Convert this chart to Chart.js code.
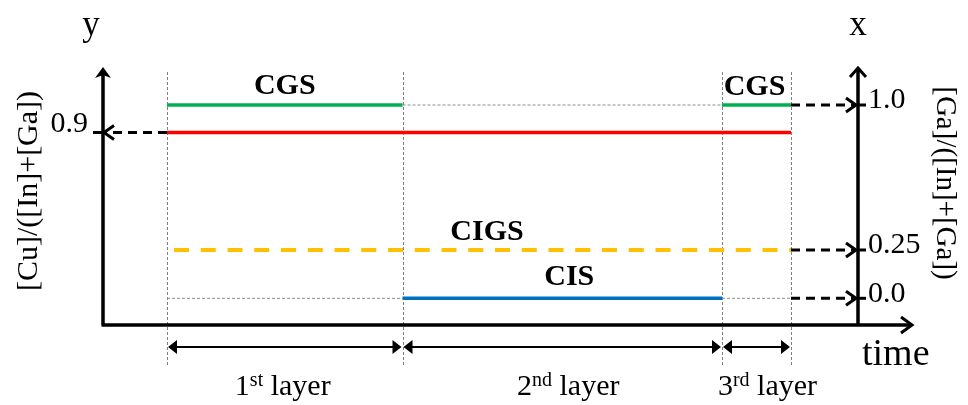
<!DOCTYPE html>
<html>
<head>
<meta charset="utf-8">
<script src="https://cdn.jsdelivr.net/npm/chart.js@4.4.0/dist/chart.umd.min.js"></script>
<style>
  html, body { margin: 0; padding: 0; background: #ffffff; }
  #wrap { width: 968px; height: 405px; }
</style>
</head>
<body>
<div id="wrap"><canvas id="c" width="968" height="405"></canvas></div>
<script>
// Time axis (arbitrary units) and the boundaries of the three deposition stages
const timeRange = [0, 81];
const stageBounds = [6.4, 29.95, 61.9, 68.8];
const gaAxisTime = 75.5;
const stageOrdinals = ['1', '2', '3'];
const stageSuffixes = ['st', 'nd', 'rd'];

// Phase deposited in each stage and its [Ga]/([In]+[Ga])
const stagePhases = ['CGS', 'CIS', 'CGS'];
const stageGa = [1.0, 0.0, 1.0];
const overallPhase = 'CIGS';
const overallGa = 0.25;

// [Cu]/([In]+[Ga]) held through the whole run
const cuRatio = 0.9;

// Tick labels
const cuTicks = [0.9];
const gaTicks = [1.0, 0.25, 0.0];
const cuRange = [0, 1.2062];
const gaRange = [-0.1381, 1.1966];

const phaseColors = { CGS: '#00b050', CIS: '#0070c0', CIGS: '#ffc000' };
const SERIF = '"Liberation Serif", "Times New Roman", serif';

function seg(x0, x1, y) { return [{ x: x0, y: y }, { x: x1, y: y }]; }

const datasets = [];

// thin dotted references at the Ga levels a stage does not sit on
const gaLevels = [1.0, 0.0];
stageGa.forEach((g, i) => {
  gaLevels.forEach(level => {
    if (level !== g) {
      datasets.push({
        data: seg(stageBounds[i], stageBounds[i + 1], level), yAxisID: 'yGa',
        borderColor: '#8c8c8c', borderWidth: 1, borderDash: [3, 2], order: 5
      });
    }
  });
});

// composition of each stage
stageGa.forEach((g, i) => {
  datasets.push({
    data: seg(stageBounds[i], stageBounds[i + 1], g), yAxisID: 'yGa',
    borderColor: phaseColors[stagePhases[i]], borderWidth: 3.5, order: 2
  });
});

// overall CIGS composition
datasets.push({
  data: seg(stageBounds[0], stageBounds[3], overallGa), yAxisID: 'yGa',
  borderColor: phaseColors.CIGS, borderWidth: 4, borderDash: [15, 11.75], borderDashOffset: 19.75, order: 2
});

// Cu ratio
datasets.push({
  data: seg(stageBounds[0], stageBounds[3], cuRatio), yAxisID: 'yCu',
  borderColor: '#ff0000', borderWidth: 3.5, order: 1
});

// dashed leaders to the axes
const leaders = [];
datasets.push({
  data: seg(stageBounds[0], 0.1, cuRatio), yAxisID: 'yCu',
  borderColor: '#000000', borderWidth: 3, borderDash: [9, 6], order: 0
});
leaders.push({ axis: 'yCu', x: 0.1, y: cuRatio, dir: -1 });
gaTicks.forEach(g => {
  datasets.push({
    data: seg(stageBounds[3], gaAxisTime - 0.2, g), yAxisID: 'yGa',
    borderColor: '#000000', borderWidth: 3, borderDash: [9, 6], order: 0
  });
  leaders.push({ axis: 'yGa', x: gaAxisTime - 0.2, y: g, dir: 1 });
});

datasets.forEach(d => { d.pointRadius = 0; d.fill = false; d.clip = false; d.borderCapStyle = 'butt'; });

function fmt(v) { return v === 0.25 ? '0.25' : v.toFixed(1); }

const schematic = {
  id: 'schematic',
  beforeDatasetsDraw(chart) {
    const ctx = chart.ctx, a = chart.chartArea, sx = chart.scales.x;
    ctx.save();
    ctx.strokeStyle = '#7f7f7f';
    ctx.lineWidth = 1;
    ctx.setLineDash([3, 2]);
    stageBounds.forEach(t => {
      const px = Math.round(sx.getPixelForValue(t)) + 0.5;
      ctx.beginPath();
      ctx.moveTo(px, a.top + 5);
      ctx.lineTo(px, a.bottom + 40);
      ctx.stroke();
    });
    ctx.restore();
  },
  afterDatasetsDraw(chart) {
    const ctx = chart.ctx, a = chart.chartArea;
    const sx = chart.scales.x, sCu = chart.scales.yCu, sGa = chart.scales.yGa;
    ctx.save();
    ctx.setLineDash([]);
    ctx.strokeStyle = '#000';
    ctx.fillStyle = '#000';

    // axes
    const x0 = sx.getPixelForValue(0);
    const xR = sx.getPixelForValue(gaAxisTime);
    ctx.lineWidth = 3.5;
    ctx.beginPath();
    ctx.moveTo(x0, a.bottom); ctx.lineTo(x0, a.top + 4);
    ctx.moveTo(x0 - 1.5, a.bottom); ctx.lineTo(a.right - 3, a.bottom);
    ctx.moveTo(xR, a.bottom); ctx.lineTo(xR, a.top + 3);
    ctx.stroke();
    // filled head on the left axis
    ctx.beginPath();
    ctx.moveTo(x0, a.top); ctx.lineTo(x0 - 8, a.top + 11); ctx.lineTo(x0, a.top + 8); ctx.lineTo(x0 + 8, a.top + 11);
    ctx.closePath(); ctx.fill();
    // open heads on the time and Ga axes
    ctx.lineWidth = 3;
    ctx.lineJoin = 'miter';
    ctx.beginPath();
    ctx.moveTo(xR - 8, a.top + 10); ctx.lineTo(xR, a.top + 1); ctx.lineTo(xR + 8, a.top + 10);
    ctx.moveTo(a.right - 12, a.bottom - 8); ctx.lineTo(a.right - 1, a.bottom); ctx.lineTo(a.right - 12, a.bottom + 8);
    ctx.stroke();

    // ticks
    ctx.lineWidth = 3;
    cuTicks.forEach(v => {
      const py = sCu.getPixelForValue(v);
      ctx.beginPath(); ctx.moveTo(x0 - 10, py); ctx.lineTo(x0, py); ctx.stroke();
    });
    gaTicks.forEach(v => {
      const py = sGa.getPixelForValue(v);
      ctx.beginPath(); ctx.moveTo(xR, py); ctx.lineTo(xR + 8, py); ctx.stroke();
    });

    // open heads on the dashed leaders
    ctx.lineWidth = 3;
    leaders.forEach(l => {
      const s = l.axis === 'yCu' ? sCu : sGa;
      const px = sx.getPixelForValue(l.x), py = s.getPixelForValue(l.y);
      ctx.beginPath();
      ctx.moveTo(px - l.dir * 10, py - 7); ctx.lineTo(px, py); ctx.lineTo(px - l.dir * 10, py + 7);
      ctx.stroke();
    });

    // stage span arrows
    const ay = a.bottom + 22;
    ctx.lineWidth = 2;
    for (let i = 0; i < 3; i++) {
      const p0 = sx.getPixelForValue(stageBounds[i]) + 1;
      const p1 = sx.getPixelForValue(stageBounds[i + 1]) - 1;
      ctx.beginPath(); ctx.moveTo(p0 + 6, ay); ctx.lineTo(p1 - 6, ay); ctx.stroke();
      ctx.beginPath();
      ctx.moveTo(p0, ay); ctx.lineTo(p0 + 9, ay - 7); ctx.lineTo(p0 + 9, ay + 7); ctx.closePath();
      ctx.moveTo(p1, ay); ctx.lineTo(p1 - 9, ay - 7); ctx.lineTo(p1 - 9, ay + 7); ctx.closePath();
      ctx.fill();
    }

    // stage names with superscript ordinals
    const nameNudge = [-2, 6, 11];
    for (let i = 0; i < 3; i++) {
      const cx = (sx.getPixelForValue(stageBounds[i]) + sx.getPixelForValue(stageBounds[i + 1])) / 2 + nameNudge[i];
      const by = a.bottom + 70;
      ctx.font = '30px ' + SERIF;
      const wNum = ctx.measureText(stageOrdinals[i]).width;
      const wWord = ctx.measureText(' layer').width;
      ctx.font = '20px ' + SERIF;
      const wSup = ctx.measureText(stageSuffixes[i]).width;
      let x = cx - (wNum + wSup + wWord) / 2;
      ctx.textAlign = 'left';
      ctx.textBaseline = 'alphabetic';
      ctx.font = '30px ' + SERIF;
      ctx.fillText(stageOrdinals[i], x, by); x += wNum;
      ctx.font = '20px ' + SERIF;
      ctx.fillText(stageSuffixes[i], x, by - 9); x += wSup;
      ctx.font = '30px ' + SERIF;
      ctx.fillText(' layer', x, by);
    }

    // phase labels
    ctx.font = 'bold 30px ' + SERIF;
    ctx.textAlign = 'center';
    ctx.textBaseline = 'alphabetic';
    const phaseNudge = [[0, -11], [7, -13], [-2, -10]];
    stagePhases.forEach((p, i) => {
      const cx = (sx.getPixelForValue(stageBounds[i]) + sx.getPixelForValue(stageBounds[i + 1])) / 2 + phaseNudge[i][0];
      ctx.fillText(p, cx, sGa.getPixelForValue(stageGa[i]) + phaseNudge[i][1]);
    });
    const ccx = (sx.getPixelForValue(stageBounds[0]) + sx.getPixelForValue(stageBounds[3])) / 2 + 8;
    ctx.fillText(overallPhase, ccx, sGa.getPixelForValue(overallGa) - 10);

    // tick labels
    ctx.font = '30px ' + SERIF;
    ctx.textAlign = 'right';
    ctx.textBaseline = 'alphabetic';
    cuTicks.forEach(v => ctx.fillText(fmt(v), x0 - 15, sCu.getPixelForValue(v)));
    ctx.textAlign = 'left';
    ctx.textBaseline = 'middle';
    gaTicks.forEach(v => ctx.fillText(fmt(v), xR + 10, sGa.getPixelForValue(v) - 4.5));

    // axis letters and titles
    ctx.font = '35px ' + SERIF;
    ctx.textAlign = 'center';
    ctx.textBaseline = 'alphabetic';
    ctx.fillText('y', x0 - 12, 35);
    ctx.fillText('x', xR, 35);
    ctx.font = '38px ' + SERIF;
    ctx.textAlign = 'left';
    ctx.fillText('time', xR + 4, a.bottom + 40);

    ctx.font = '30px ' + SERIF;
    ctx.textAlign = 'center';
    ctx.textBaseline = 'middle';
    ctx.save();
    ctx.translate(29, 191);
    ctx.rotate(-Math.PI / 2);
    ctx.fillText('[Cu]/([In]+[Ga])', 0, 0);
    ctx.restore();
    ctx.font = '29px ' + SERIF;
    ctx.save();
    ctx.translate(945, 183);
    ctx.rotate(Math.PI / 2);
    ctx.fillText('[Ga]/([In]+[Ga])', 0, 0);
    ctx.restore();

    ctx.restore();
  }
};

new Chart(document.getElementById('c'), {
  type: 'line',
  data: { datasets: datasets },
  options: {
    responsive: false,
    animation: false,
    events: [],
    layout: { padding: { left: 103, right: 55, top: 67, bottom: 80 } },
    plugins: { legend: { display: false }, tooltip: { enabled: false }, title: { display: false } },
    scales: {
      x: { type: 'linear', min: timeRange[0], max: timeRange[1], display: false },
      yCu: { type: 'linear', position: 'left', min: cuRange[0], max: cuRange[1], display: false },
      yGa: { type: 'linear', position: 'right', min: gaRange[0], max: gaRange[1], display: false }
    }
  },
  plugins: [schematic]
});
</script>
</body>
</html>
